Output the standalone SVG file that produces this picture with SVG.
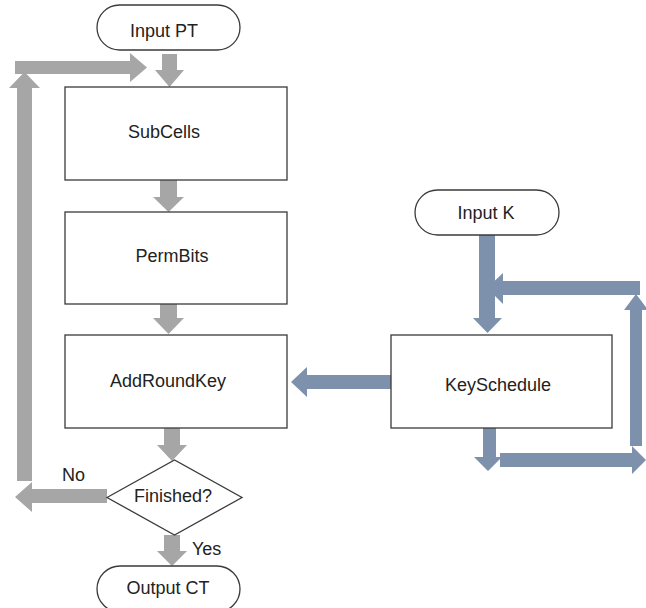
<svg xmlns="http://www.w3.org/2000/svg" width="646" height="608" viewBox="0 0 646 608">
<style>
.box{fill:#fff;stroke:#3a3a3a;stroke-width:1.3}
.t{font-family:"Liberation Sans",Arial,sans-serif;font-size:18px;fill:#222;text-anchor:middle}
.l{font-family:"Liberation Sans",Arial,sans-serif;font-size:18px;fill:#222}
.g{fill:#a6a6a6}
.b{fill:#7d91ad}
</style>
<rect width="646" height="608" fill="#fff"/>
<g id="connectors">
<polygon class="g" points="162,54 177,54 177,70 184,70 169.5,87 155,70 162,70"/>
<polygon class="g" points="160,180 177,180 177,197 184,197 168.5,212 153,197 160,197"/>
<polygon class="g" points="160,304 177,304 177,318 184,318 168.5,334 153,318 160,318"/>
<polygon class="g" points="164,428 180,428 180,445 187,445 172,461 157,445 164,445"/>
<polygon class="g" points="164,535 180,535 180,551 187,551 172,566 157,551 164,551"/>
<polygon class="g" points="107,489 32,489 32,482 15,497 32,512 32,503 107,503"/>
<polygon class="g" points="17,481 32,481 32,88 40,88 24.5,72 9,88 17,88"/>
<polygon class="g" points="15,61 130,61 130,53 147,67.5 130,82 130,74 15,74"/>
<polygon class="b" points="479,235 495,235 495,318 502,318 487.5,333 473,318 479,318"/>
<polygon class="b" points="640,281 503,281 503,273 487,288 503,304 503,295 640,295"/>
<polygon class="b" points="630,446 642,446 642,310 648,310 636,294 624,310 630,310"/>
<polygon class="b" points="483,428 496,428 496,457 502,457 488,471 474,457 483,457"/>
<polygon class="b" points="500,453 632,453 632,446 646,460 632,474 632,467 500,467"/>
<polygon class="b" points="391,375 307,375 307,367 291,382 307,397 307,389 391,389"/>
</g>
<g id="input-pt"><rect class="box" x="97" y="5" width="143" height="45" rx="22.5"/><text class="t" x="164" y="37">Input PT</text></g>
<g id="subcells"><rect class="box" x="65" y="87" width="222" height="93"/><text class="t" x="164" y="138">SubCells</text></g>
<g id="permbits"><rect class="box" x="65" y="212" width="222" height="92"/><text class="t" x="172" y="262">PermBits</text></g>
<g id="addroundkey"><rect class="box" x="65" y="335" width="222" height="93"/><text class="t" x="168" y="387">AddRoundKey</text></g>
<g id="finished"><polygon class="box" points="107,497.5 174.5,460 242,497.5 174.5,535"/><text class="t" x="173" y="502">Finished?</text></g>
<g id="output-ct"><rect class="box" x="97" y="566" width="143" height="46" rx="23"/><text class="t" x="168" y="594">Output CT</text></g>
<g id="input-k"><rect class="box" x="415" y="190" width="144" height="45" rx="22.5"/><text class="t" x="486" y="219">Input K</text></g>
<g id="keyschedule"><rect class="box" x="391" y="335" width="221" height="93"/><text class="t" x="498" y="391">KeySchedule</text></g>
<g id="labels"><text class="l" x="62" y="481">No</text><text class="l" x="192" y="555">Yes</text></g>
</svg>
